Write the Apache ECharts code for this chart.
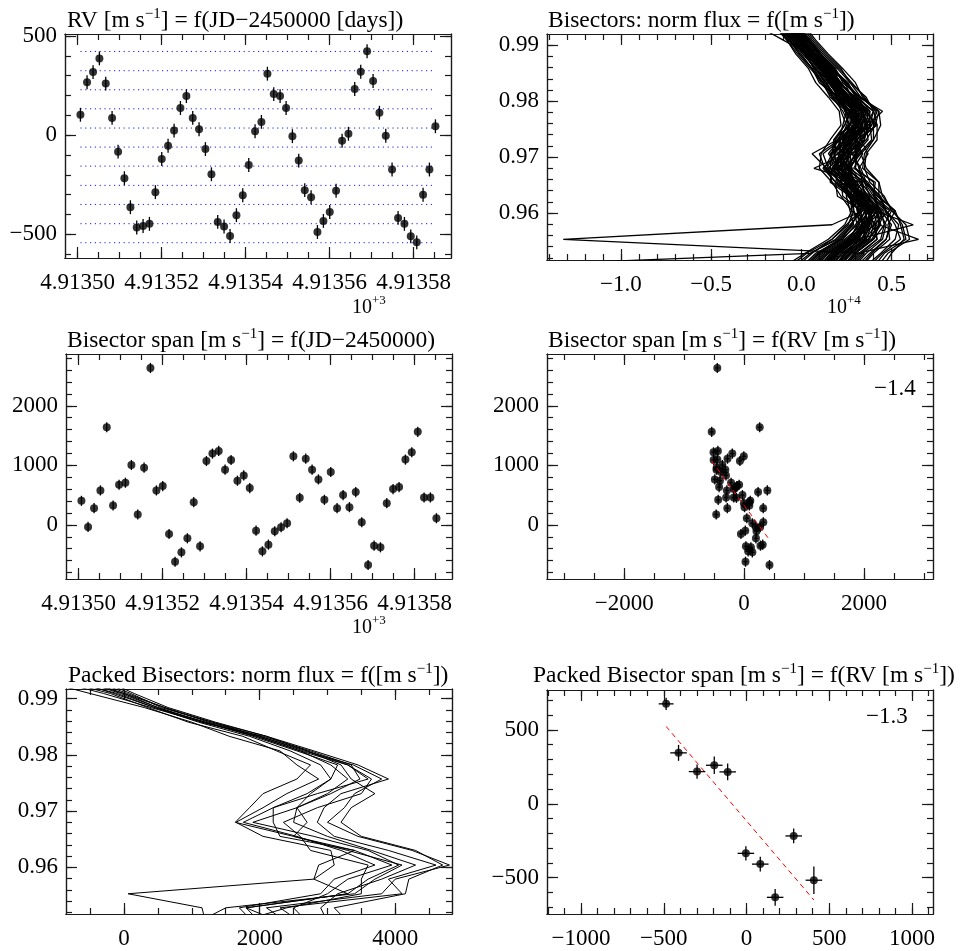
<!DOCTYPE html>
<html><head><meta charset="utf-8">
<script src="https://cdn.jsdelivr.net/npm/echarts@6/dist/echarts.min.js"></script>
<style>html,body{margin:0;padding:0;background:#fff}#c{width:965px;height:951px}</style>
</head><body><div id="c"></div>
<script>
// ---------------- DATA ----------------
// JD-2450000 [days]
const time = [4913.50067,4913.50225,4913.50368,4913.50519,4913.50670,4913.50821,4913.50964,4913.51114,4913.51257,4913.51408,
4913.51559,4913.51710,4913.51852,4913.52003,4913.52154,4913.52297,4913.52448,4913.52590,4913.52741,4913.52892,
4913.53043,4913.53186,4913.53336,4913.53487,4913.53630,4913.53781,4913.53932,4913.54075,4913.54225,4913.54376,
4913.54519,4913.54670,4913.54821,4913.54964,4913.55114,4913.55265,4913.55408,4913.55559,4913.55710,4913.55852,
4913.56003,4913.56154,4913.56297,4913.56448,4913.56598,4913.56741,4913.56892,4913.57035,4913.57186,4913.57337,
4913.57487,4913.57630,4913.57781,4913.57932,4913.58075,4913.58225,4913.58376,4913.58519];
// RV [m/s]
const rv = [103,267,318,387,260,87,-83,-217,-363,-465,-458,-447,-287,-120,-53,23,137,197,87,30,
-70,-197,-437,-460,-508,-403,-303,-150,20,67,310,207,197,137,-5,-128,-277,-313,-488,-432,
-387,-280,-28,7,233,320,423,273,113,-3,-173,-417,-447,-510,-540,-300,-173,45];
const rvErr = 35;
// Bisector span [m/s]
const span = [404,-34,281,579,1640,326,674,708,1006,174,961,2635,579,652,-152,-618,-461,-225,382,-360,
1073,1197,1242,927,1090,742,831,618,-96,-444,-331,-107,-39,28,1152,455,1112,927,764,421,
888,281,500,298,551,45,-674,-348,-376,365,601,635,1096,1219,1562,461,461,112];
const spanErr = 85;
// RV bin edges (blue dotted lines)
const rvLevels = [422,325,229,133,36,-60,-156,-253,-349,-446,-542];
// normalised flux levels of the bisector points
const fluxLevels = [0.9503,0.9528,0.9553,0.9579,0.9604,0.9630,0.9655,0.9680,0.9706,0.9731,0.9757,0.9782,0.9807,0.9833,0.9858,0.9884,0.9909,0.9934];
// bisector velocities [x 10^4 m/s], one per observation, at fluxLevels
const bisectors = [
[0.05,0.12,0.25,0.36,0.28,0.27,0.16,0.17,0.24,0.21,0.31,0.27,0.20,0.17,0.07,0.02,-0.05,-0.12],
[0.25,0.32,0.42,0.40,0.49,0.38,0.35,0.24,0.31,0.27,0.36,0.40,0.30,0.21,0.18,0.10,0.03,-0.04],
[0.10,0.18,0.29,0.41,0.36,0.28,0.34,0.20,0.16,0.28,0.31,0.24,0.22,0.16,0.13,0.04,-0.02,-0.09],
[0.30,0.38,0.47,0.50,0.44,0.40,0.41,0.29,0.34,0.30,0.42,0.36,0.31,0.25,0.16,0.11,0.04,-0.03],
[-0.05,0.05,0.19,0.27,0.34,0.20,0.19,0.12,0.20,0.18,0.24,0.28,0.18,0.12,0.07,0.03,-0.07,-0.14],
[0.18,0.24,0.36,0.33,0.43,0.35,0.22,0.28,0.24,0.31,0.29,0.37,0.27,0.19,0.14,0.06,0.02,-0.06],
[0.12,0.20,0.30,0.37,0.39,0.26,0.27,0.15,0.23,0.24,0.36,0.30,0.23,0.20,0.11,0.05,-0.02,-0.08],
[0.35,0.44,0.52,0.54,0.47,0.44,0.36,0.33,0.28,0.36,0.41,0.43,0.33,0.27,0.20,0.12,0.05,-0.02],
[0.00,0.08,0.22,0.31,0.29,0.29,0.17,0.15,0.12,0.22,0.25,0.22,0.20,0.10,0.06,-0.01,-0.06,-0.13],
[0.20,0.27,0.37,0.43,0.42,0.32,0.31,0.22,0.28,0.28,0.37,0.34,0.25,0.21,0.15,0.07,0.01,-0.06],
[0.14,0.21,0.31,0.35,0.40,0.33,0.22,0.24,0.20,0.29,0.30,0.32,0.25,0.15,0.12,0.06,-0.01,-0.07],
[0.28,0.35,-1.32,0.17,0.34,0.29,0.31,0.21,0.26,0.27,0.33,0.30,0.24,0.17,0.13,0.05,-0.01,-0.08],
[0.08,0.15,0.27,0.34,0.33,0.31,0.24,0.27,0.21,0.23,0.27,0.31,0.21,0.16,0.10,0.03,-0.03,-0.10],
[0.40,0.46,0.58,0.56,0.51,0.45,0.43,0.34,0.35,0.40,0.40,0.41,0.35,0.28,0.21,0.13,0.06,0.00],
[0.16,0.22,0.34,0.37,0.38,0.27,0.29,0.18,0.25,0.28,0.34,0.28,0.25,0.20,0.14,0.06,0.00,-0.07],
[0.09,0.17,0.28,0.35,0.31,0.32,0.25,0.20,0.27,0.23,0.29,0.27,0.19,0.18,0.11,0.05,-0.02,-0.09],
[0.22,0.30,0.40,0.46,0.44,0.37,0.32,0.27,0.26,0.35,0.35,0.38,0.29,0.21,0.16,0.08,0.02,-0.05],
[-0.10,0.02,0.15,0.24,0.28,0.22,0.17,0.10,0.11,0.16,0.22,0.21,0.15,0.08,0.04,-0.03,-0.08,-0.15],
[0.15,0.23,0.33,0.38,0.41,0.33,0.26,0.23,0.24,0.25,0.30,0.32,0.26,0.19,0.12,0.05,-0.01,-0.06],
[0.13,0.20,0.31,0.62,0.41,0.34,0.28,0.22,0.23,0.27,0.31,0.29,0.25,0.18,0.13,0.06,0.00,-0.07],
[0.06,0.14,0.26,0.32,0.35,0.29,0.22,0.14,0.06,0.20,0.27,0.27,0.21,0.15,0.10,0.03,-0.04,-0.11],
[0.21,0.28,0.38,0.40,0.43,0.36,0.33,0.07,0.25,0.30,0.34,0.33,0.26,0.20,0.14,0.07,0.01,-0.05],
[0.11,0.18,0.29,0.34,0.32,0.31,0.27,0.21,0.18,0.26,0.29,0.30,0.26,0.18,0.12,0.05,-0.02,-0.08],
[0.32,0.39,0.47,0.49,0.47,0.41,0.36,0.30,0.31,0.35,0.37,0.45,0.32,0.25,0.18,0.10,0.04,-0.03],
[0.02,0.10,0.22,0.28,0.32,0.26,0.21,0.16,0.17,0.20,0.26,0.25,0.19,0.13,0.08,0.01,-0.05,-0.11],
[0.19,0.26,0.35,0.38,0.39,0.30,0.30,0.25,0.26,0.33,0.31,0.35,0.27,0.20,0.15,0.07,0.01,-0.05],
[0.24,0.31,0.65,0.43,0.44,0.39,0.33,0.28,0.27,0.31,0.36,0.34,0.28,0.22,0.16,0.08,0.02,-0.04],
[0.10,0.16,0.28,0.33,0.37,0.30,0.26,0.19,0.21,0.26,0.28,0.29,0.23,0.16,0.11,0.04,-0.02,-0.09],
[0.17,0.25,0.32,0.36,0.45,0.33,0.28,0.24,0.23,0.28,0.39,0.31,0.25,0.19,0.13,0.06,0.00,-0.06],
[0.04,0.11,0.24,0.34,0.29,0.27,0.19,0.21,0.15,0.21,0.29,0.26,0.17,0.14,0.08,0.02,-0.04,-0.10],
[0.37,0.45,0.55,0.52,0.47,0.43,0.35,0.32,0.37,0.33,0.39,0.42,0.33,0.23,0.19,0.11,0.05,-0.01],
[0.12,0.19,0.30,0.36,0.40,0.28,0.27,0.19,0.24,0.29,0.29,0.30,0.27,0.18,0.10,0.05,-0.01,-0.07],
[0.23,0.29,0.39,0.44,0.42,0.36,0.27,0.26,0.33,0.31,0.37,0.34,0.25,0.21,0.15,0.06,0.02,-0.05],
[-0.03,0.06,0.17,0.25,0.33,0.23,0.22,0.13,0.10,0.21,0.23,0.25,0.16,0.12,0.05,-0.02,-0.08,-0.14],
[0.26,0.33,0.42,0.41,0.46,0.35,0.34,0.32,0.29,0.33,0.41,0.36,0.30,0.26,0.17,0.09,0.03,-0.03],
[0.14,0.20,0.30,0.38,0.35,0.31,0.24,0.22,0.28,0.27,0.30,0.33,0.24,0.17,0.12,0.05,-0.01,-0.07],
[0.07,0.15,0.27,0.31,0.38,0.28,0.27,0.18,0.16,0.24,0.32,0.27,0.21,0.18,0.10,0.03,-0.03,-0.09],
[0.42,0.48,0.60,0.58,0.50,0.46,0.38,0.35,0.36,0.42,0.42,0.40,0.36,0.27,0.22,0.14,0.07,0.01],
[0.18,0.24,0.35,0.35,0.40,0.31,0.29,0.26,0.21,0.29,0.36,0.33,0.26,0.20,0.14,0.07,0.00,-0.06],
[0.01,0.09,0.21,0.29,0.27,0.25,0.24,0.14,0.19,0.19,0.24,0.27,0.18,0.12,0.06,0.00,-0.06,-0.12],
[0.21,0.27,0.37,0.44,0.41,0.37,0.26,0.27,0.31,0.30,0.34,0.36,0.27,0.18,0.15,0.07,0.01,-0.05],
[0.11,0.19,0.29,0.35,0.36,0.34,0.25,0.17,0.23,0.26,0.30,0.28,0.24,0.17,0.11,0.04,-0.10,-0.24],
[0.27,0.34,0.44,0.46,0.50,0.40,0.35,0.25,0.30,0.37,0.36,0.37,0.28,0.24,0.17,0.09,0.03,-0.04],
[0.06,0.13,0.26,0.32,0.31,0.29,0.20,0.18,0.23,0.24,0.27,0.29,0.21,0.15,0.09,0.03,-0.03,-0.10],
[0.16,0.23,0.33,0.40,0.38,0.29,0.28,0.24,0.26,0.23,0.31,0.34,0.26,0.19,0.14,0.06,0.00,-0.06],
[-0.07,0.03,0.17,0.26,0.29,0.28,0.19,0.13,0.17,0.18,0.27,0.23,0.17,0.11,0.06,-0.01,-0.07,-0.13],
[0.29,0.36,0.45,0.47,0.43,0.41,0.40,0.30,0.30,0.34,0.38,0.40,0.31,0.24,0.18,0.10,0.04,-0.02],
[0.13,0.20,0.31,0.36,0.42,0.33,0.26,0.26,0.21,0.27,0.34,0.30,0.25,0.16,0.12,0.05,-0.01,-0.07],
[0.20,0.27,0.36,0.39,0.37,0.35,0.31,0.21,0.26,0.30,0.33,0.36,0.27,0.20,0.14,0.07,0.01,-0.05],
[-1.90,0.05,0.20,0.28,0.32,0.26,0.25,0.16,0.17,0.25,0.26,0.25,0.19,0.14,0.08,0.02,-0.05,-0.11],
[0.24,0.30,0.40,0.43,0.47,0.38,0.29,0.27,0.32,0.32,0.39,0.35,0.29,0.22,0.16,0.08,0.02,-0.04],
[0.09,0.17,0.28,0.37,0.35,0.26,0.25,0.20,0.21,0.21,0.29,0.31,0.22,0.16,0.11,0.04,-0.02,-0.08],
[0.45,0.50,0.57,0.55,0.52,0.43,0.43,0.36,0.33,0.40,0.44,0.43,0.34,0.30,0.23,0.15,0.08,0.02],
[0.15,0.21,0.32,0.35,0.39,0.32,0.24,0.23,0.22,0.28,0.31,0.30,0.25,0.18,0.13,0.06,-0.01,-0.07],
[0.03,0.10,0.23,0.30,0.36,0.27,0.22,0.20,0.18,0.22,0.30,0.25,0.20,0.13,0.08,0.01,-0.05,-0.11],
[0.19,0.25,0.35,0.42,0.40,0.30,0.30,0.26,0.30,0.30,0.32,0.35,0.26,0.20,0.15,0.07,0.00,-0.06],
[0.33,0.40,0.49,0.48,0.52,0.42,0.37,0.27,0.32,0.39,0.38,0.38,0.32,0.25,0.18,0.10,0.04,-0.03],
[0.12,0.19,0.30,0.34,0.37,0.35,0.27,0.21,0.23,0.26,0.34,0.29,0.23,0.17,0.12,0.05,-0.01,-0.08]
];
// packed (RV-binned) bisectors [m/s] at fluxLevels
const packedBisectors = [
[1200,1150,60,2800,2870,3400,2500,1640,1850,2050,2550,2750,2250,1750,950,350,-200,-1000],
[1900,1700,2900,3100,3700,3200,2550,1760,2200,2700,3050,2900,2450,1850,1100,450,-100,-900],
[2300,1800,3300,3600,4050,3600,2800,1900,2550,3000,3300,3050,2600,1950,1200,500,0,-700],
[2700,2500,3000,3300,3950,3400,2300,2200,2200,2850,3600,3300,2700,2000,1300,550,100,-400],
[3000,2900,3150,3800,4300,3650,3000,2500,2550,3050,3480,3350,2750,2050,1150,400,-300,-1100],
[2400,2100,3800,4000,4800,4250,3450,3000,3250,3400,3800,3380,2650,2000,1250,600,0,-600],
[3300,3100,4150,4200,4700,4300,3500,3200,3350,3700,3350,3200,2700,2100,1350,650,150,-300],
[2000,1800,3300,2800,3100,3050,2050,1650,2050,2400,2870,2550,2300,1550,1000,300,-500,-1300],
[1100,1500,3400,3700,4100,3300,2500,2700,2550,2750,3050,3150,2550,1900,1200,450,-150,-800],
[2600,2300,4100,3900,4600,3900,3100,2850,2950,3200,3900,3450,2800,2100,1300,600,50,-500],
[1700,2400,3500,3500,3600,2750,2600,2350,2850,3500,3650,3300,2600,1950,1150,500,-50,-700]
];
// packed RV / span per bin [m/s]
const packedRV = [-486,-411,-299,-195,-114,-4,83,173,285,407];
const packedSpan = [677,345,218,261,216,-336,-409,-634,-218,-518];
const packedRVErr = [45,50,50,50,50,50,50,50,50,50];
const packedSpanErr = [41,54,48,59,57,48,50,57,50,93];
// linear fits (span vs RV)
const fitAll = {slope: -1.37, intercept: 330};
const fitPacked = {slope: -1.317, intercept: -116};
// tick values
const jdMajor = [4913.50,4913.52,4913.54,4913.56,4913.58];
const rvMajor = [-500,0,500];
const bisXMajor = [-1.0,-0.5,0.0,0.5];
const fluxMajor = [0.96,0.97,0.98,0.99];
const spanMajor = [0,1000,2000];
const rvWideMajor = [-2000,0,2000];
const packXMajor = [0,2000,4000];
const packRVMajor = [-1000,-500,0,500,1000];
const packSpanMajor = [-500,0,500];

// ---------------- HELPERS ----------------
const FONT = 'Liberation Serif';
function steps(a, b, st) { const o = []; const n = Math.round((b - a) / st); for (let i = 0; i <= n; i++) o.push(+(a + i * st).toFixed(6)); return o; }
const minus = s => String(s).replace('-', '\u2212');
const intFmt = v => minus(Math.round(v));
const jdFmt = v => (v / 1000).toFixed(5);
const f1 = v => minus((Math.abs(v) < 1e-9 ? 0 : v).toFixed(1));
const f2 = v => v.toFixed(2);

const grids = [
  {left: 65, top: 34, width: 386, height: 224},
  {left: 547, top: 34, width: 386, height: 226},
  {left: 66, top: 354, width: 386, height: 225},
  {left: 547, top: 354, width: 386, height: 225},
  {left: 66, top: 689, width: 386, height: 225},
  {left: 547, top: 690, width: 386, height: 224}
].map(g => Object.assign({outerBoundsMode: 'none', containLabel: false}, g));

const jdMinor = steps(4913.50, 4913.585, 0.005);
const axCfg = [
  {x: {min: 4913.497, max: 4913.5889, majors: jdMajor, minors: jdMinor, fmt: jdFmt},
   y: {min: -619, max: 510, majors: rvMajor, minors: steps(-600, 500, 100), fmt: intFmt}},
  {x: {min: -1.41, max: 0.73, majors: bisXMajor, minors: steps(-1.4, 0.7, 0.1), fmt: f1},
   y: {min: 0.9516, max: 0.9920, majors: fluxMajor, minors: steps(0.952, 0.990, 0.002), fmt: f2}},
  {x: {min: 4913.497, max: 4913.5889, majors: jdMajor, minors: jdMinor, fmt: jdFmt},
   y: {min: -908, max: 2869, majors: spanMajor, minors: steps(-800, 2800, 200), fmt: intFmt}},
  {x: {min: -3286, max: 3149, majors: rvWideMajor, minors: steps(-3000, 3000, 500), fmt: intFmt},
   y: {min: -908, max: 2869, majors: spanMajor, minors: steps(-800, 2800, 200), fmt: intFmt}},
  {x: {min: -856, max: 4837, majors: packXMajor, minors: steps(-500, 4500, 500), fmt: intFmt},
   y: {min: 0.9517, max: 0.9917, majors: fluxMajor, minors: steps(0.952, 0.990, 0.002), fmt: f2}},
  {x: {min: -1206, max: 1127, majors: packRVMajor, minors: steps(-1200, 1100, 100), fmt: intFmt},
   y: {min: -747, max: 771, majors: packSpanMajor, minors: steps(-700, 700, 100), fmt: intFmt}}
];

const xAxes = [], yAxes = [], idx = [];
function makeAxes(list, kind, gi, cfg) {
  const first = list.length;
  const sides = kind === 'x' ? ['bottom', 'top'] : ['left', 'right'];
  sides.forEach((pos, si) => {
    [[cfg.majors, 11], [cfg.minors, 6]].forEach(([vals, len], mi) => {
      const lab = si === 0 && mi === 0;
      list.push({
        type: 'value', gridIndex: gi, position: pos, min: cfg.min, max: cfg.max,
        axisLine: {show: true, onZero: false, lineStyle: {color: '#1a1a1a', width: 1.2}},
        axisTick: {show: true, inside: true, length: len, customValues: vals, lineStyle: {color: '#1a1a1a', width: 1.2}},
        axisLabel: lab ? {show: true, customValues: cfg.majors, formatter: cfg.fmt, margin: kind === 'x' ? 13 : 8,
          fontFamily: FONT, fontSize: 23, color: '#000'} : {show: false},
        splitLine: {show: false}, splitArea: {show: false}
      });
    });
  });
  return first;
}
axCfg.forEach((c, gi) => { idx.push({x: makeAxes(xAxes, 'x', gi, c.x), y: makeAxes(yAxes, 'y', gi, c.y)}); });

const series = [];
function line(gi, data, color, width, type) {
  series.push({type: 'line', xAxisIndex: idx[gi].x, yAxisIndex: idx[gi].y, data, symbol: 'none', silent: true,
    clip: true, lineStyle: {color, width, type: type || 'solid'}, z: 2});
}
function errBars(gi, data) {
  series.push({type: 'custom', xAxisIndex: idx[gi].x, yAxisIndex: idx[gi].y, data, silent: true, z: 3,
    encode: {x: 0, y: 1},
    renderItem: (p, api) => {
      const x = api.value(0), y = api.value(1), ex = api.value(2), ey = api.value(3);
      const ch = [];
      if (ey > 0) { const a = api.coord([x, y - ey]), b = api.coord([x, y + ey]);
        ch.push({type: 'line', shape: {x1: a[0], y1: a[1], x2: b[0], y2: b[1]}, style: {stroke: '#000', lineWidth: 1.3}}); }
      if (ex > 0) { const a = api.coord([x - ex, y]), b = api.coord([x + ex, y]);
        ch.push({type: 'line', shape: {x1: a[0], y1: a[1], x2: b[0], y2: b[1]}, style: {stroke: '#000', lineWidth: 1.3}}); }
      return {type: 'group', children: ch};
    }});
}
function dots(gi, data) {
  series.push({type: 'scatter', xAxisIndex: idx[gi].x, yAxisIndex: idx[gi].y, data, symbol: 'circle', symbolSize: 8,
    itemStyle: {color: '#000'}, silent: true, z: 4});
}

// Panel 1: RV vs time
rvLevels.forEach(l => line(0, [[time[0], l], [time[time.length - 1], l]], '#1a1aff', 1, [1.2, 3.6]));
errBars(0, time.map((t, i) => [t, rv[i], 0, rvErr]));
dots(0, time.map((t, i) => [t, rv[i]]));
// Panel 2: bisectors
bisectors.forEach(b => line(1, b.map((v, i) => [v, fluxLevels[i]]), '#000', 1.3));
// Panel 3: span vs time
errBars(2, time.map((t, i) => [t, span[i], 0, spanErr]));
dots(2, time.map((t, i) => [t, span[i]]));
// Panel 4: span vs RV
const rvMin = Math.min(...rv), rvMax = Math.max(...rv);
errBars(3, rv.map((r, i) => [r, span[i], rvErr, spanErr]));
dots(3, rv.map((r, i) => [r, span[i]]));
line(3, [[rvMin, fitAll.intercept + fitAll.slope * rvMin], [rvMax, fitAll.intercept + fitAll.slope * rvMax]], '#ff0000', 1, [5, 4]);
series[series.length - 1].z = 5;
// Panel 5: packed bisectors
packedBisectors.forEach(b => line(4, b.map((v, i) => [v, fluxLevels[i]]), '#000', 1));
// Panel 6: packed span vs packed RV
const pMin = Math.min(...packedRV), pMax = Math.max(...packedRV);
line(5, [[pMin, fitPacked.intercept + fitPacked.slope * pMin], [pMax, fitPacked.intercept + fitPacked.slope * pMax]], '#ff0000', 1, [5, 4]);
errBars(5, packedRV.map((r, i) => [r, packedSpan[i], packedRVErr[i], packedSpanErr[i]]));
dots(5, packedRV.map((r, i) => [r, packedSpan[i]]));

// titles
const rich = {
  n: {fontFamily: FONT, fontSize: 23.5, fontWeight: 'normal', color: '#000', lineHeight: 26, verticalAlign: 'bottom'},
  s: {fontFamily: FONT, fontSize: 15, fontWeight: 'normal', color: '#000', lineHeight: 15, verticalAlign: 'top'},
  m: {fontFamily: FONT, fontSize: 20, fontWeight: 'normal', color: '#000', lineHeight: 24, verticalAlign: 'bottom'},
  p: {fontFamily: FONT, fontSize: 13, fontWeight: 'normal', color: '#000', lineHeight: 13, verticalAlign: 'top'}
};
const SUP = '{s|\u22121}';
function T(text, left, top) { return {text, left, top, padding: 0, textStyle: {fontWeight: 'normal', rich}}; }
const titles = [
  T('{n|RV [m s}' + SUP + '{n|] = f(JD\u22122450000 [days])}', 67, 7),
  T('{n|Bisectors: norm flux = f([m s}' + SUP + '{n|])}', 548, 7),
  T('{n|Bisector span [m s}' + SUP + '{n|] = f(JD\u22122450000)}', 67, 327),
  T('{n|Bisector span [m s}' + SUP + '{n|] = f(RV [m s}' + SUP + '{n|])}', 548, 327),
  T('{n|Packed Bisectors: norm flux = f([m s}' + SUP + '{n|])}', 68, 662),
  T('{n|Packed Bisector span [m s}' + SUP + '{n|] = f(RV [m s}' + SUP + '{n|])}', 533, 662),
  T('{m|10}{p|+3}', 352, 294),
  T('{m|10}{p|+3}', 352, 614),
  T('{m|10}{p|+4}', 827, 294),
  {text: minus(fitAll.slope.toFixed(1)), left: 874, top: 377, padding: 0, textStyle: {fontFamily: FONT, fontSize: 23, fontWeight: 'normal', color: '#000'}},
  {text: minus(fitPacked.slope.toFixed(1)), left: 866, top: 705, padding: 0, textStyle: {fontFamily: FONT, fontSize: 23, fontWeight: 'normal', color: '#000'}}
];

const chart = echarts.init(document.getElementById('c'), null, {renderer: 'canvas'});
chart.setOption({
  backgroundColor: '#fff', animation: false,
  title: titles, grid: grids, xAxis: xAxes, yAxis: yAxes, series
});
</script></body></html>
